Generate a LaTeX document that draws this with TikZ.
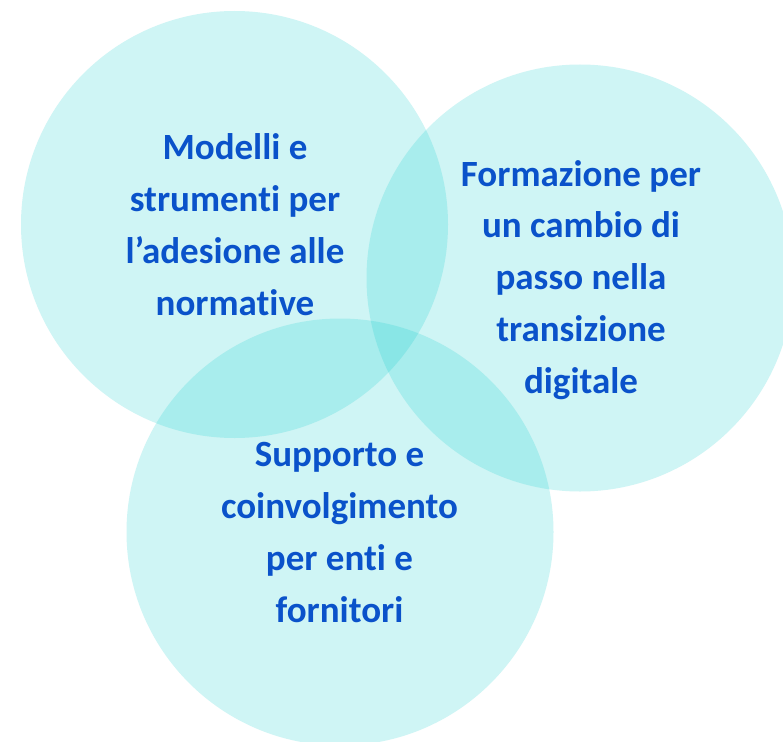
\documentclass[tikz,border=0pt]{standalone}
\usepackage{fontspec}
\setmainfont{Carlito}[Ligatures={NoCommon,NoRare,NoContextual}]
\usepackage{tikz}
\usetikzlibrary{positioning}
\usepackage{xcolor}
\definecolor{CyanF} {RGB}{15, 205, 205}
\definecolor{BlueT} {RGB}{10,  82, 202}

\tikzset{
  bubble/.style={fill=CyanF,fill opacity=0.2},
  areatext/.style={BlueT,align=center,inner sep=0pt,anchor=base,
    font=\fontsize{37}{51.7}\selectfont\bfseries}
}

\begin{document}
\begin{tikzpicture}[x=1pt,y=-1pt]
        \useasboundingbox (0,0) rectangle (783,741);
        \clip (0,0) rectangle (783,741);
        \fill[white] (0,0) rectangle (783,741);
        % three overlapping areas
        \foreach \cx/\cy in {234.5/224.5, 580/278, 340/532}{
          \fill[bubble] (\cx,\cy) circle (213.5);
        }
        % anchor=base sits on the last line
        \node[areatext] (norme) at (235,315)
          {Modelli e\\strumenti per\\l’adesione alle\\normative};
        \node[areatext] (formazione) at (581,393)
          {Formazione per\\un cambio di\\passo nella\\transizione\\digitale};
        \node[areatext] (supporto) at (339.5,622)
          {Supporto e\\coinvolgimento\\per enti e\\fornitori};
      \end{tikzpicture}
\end{document}
